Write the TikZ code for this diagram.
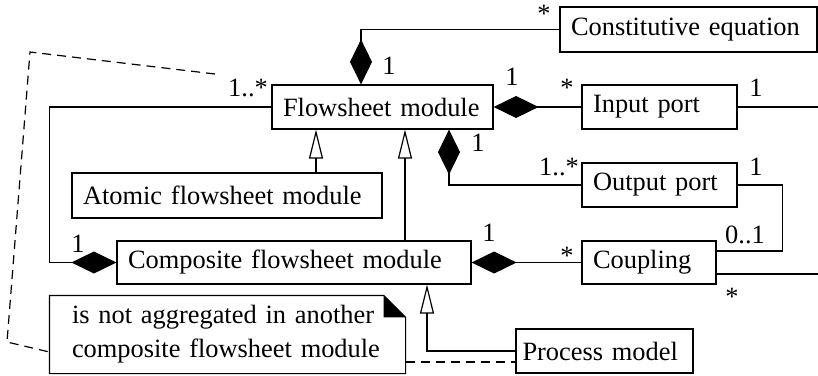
\documentclass[tikz,border=0pt]{standalone}
\usepackage{fontspec}
\setmainfont{Liberation Serif}
\usetikzlibrary{arrows.meta,calc}

\tikzset{
    cls/.style={draw,line width=0.6pt,inner xsep=5.5pt,inner ysep=0pt,minimum height=22pt,align=left},
    mult/.style={inner sep=0pt,anchor=base},
    aggr/.style={-{Diamond[length=22.5pt,width=11pt]}},
    gen/.style={-{Triangle[open,length=14.5pt,width=7pt]}},
    notelink/.style={dash pattern=on 4.5pt off 3pt}
}

\begin{document}
\begin{tikzpicture}[x=0.5pt,y=-0.5pt,line width=0.6pt,font=\fontsize{13.2}{17}\selectfont]
                \useasboundingbox(0,0)rectangle(818,375);
                \node[cls,text width=99.5pt](fm)at(382.5,107){Flowsheet module};
                \node[cls,text width=117.5pt,minimum height=22.5pt](ce)at(688.5,29.5){Constitutive equation};
                \node[cls,text width=66.5pt](ip)at(659.5,107){Input port};
                \node[cls,text width=66.5pt](op)at(659.5,185){Output port};
                \node[cls,text width=56pt,minimum height=21.5pt](cp)at(649,262.5){Coupling};
                \node[cls,text width=166pt,minimum height=21.5pt](cfm)at(294,262.5){Composite flowsheet module};
                \node[cls,text width=144pt,minimum height=22.5pt](afm)at(227,195.5){Atomic flowsheet module};
                \node[cls,text width=82pt,inner xsep=3.25pt](pm)at(604.5,351){Process model};
                \node[align=left,inner xsep=11pt,inner ysep=0pt,text width=155.5pt,minimum height=38.5pt](note)at(227.5,334.5)
                    {is not aggregated in another\\composite flowsheet module};
                \draw(note.north west)--([xshift=-11pt]note.north east)--([yshift=-11pt]note.north east)
                    --(note.south east)--(note.south west)--cycle;
                \fill([xshift=-11pt]note.north east)--([yshift=-11pt]note.north east)--([shift={(-11pt,-11pt)}]note.north east)--cycle;

                \coordinate(ipend)at(818,107);
                \coordinate(cpend)at(818,274);
                \coordinate(dstart)at(215,74);
                \coordinate(dtop)at(30,52);
                \coordinate(dbot)at(7,342);

                \draw[aggr](ce.west)-|([xshift=-10.75pt]fm.north);
                \draw[aggr](ip.west)--(fm.east);
                \draw(ip.east)--(ipend);
                \draw[aggr](op.west)-|([xshift=33.25pt]fm.south);
                \draw(op.east)--++(22.5pt,0)|-([yshift=5.75pt]cp.east);
                \draw([yshift=-5.75pt]cp.east)--(cpend);
                \draw[aggr](cp.west)--(cfm.east);
                \draw[aggr](fm.west)--++(-111pt,0)|-(cfm.west);
                \draw[gen]([xshift=44.5pt]afm.north)--([xshift=44.5pt]afm.north|-fm.south);
                \draw[gen]([xshift=55.5pt]cfm.north)--([xshift=55.5pt]cfm.north|-fm.south);
                \draw[gen](pm.west)-|([xshift=66.5pt]cfm.south);
                \draw[notelink](dstart)--(dtop)--(dbot)--([yshift=-8.75pt]note.west);
                \draw[notelink]([yshift=-13.75pt]note.east)--([yshift=-5.5pt]pm.west);

                \node[mult](m1)at(389,74){1};
                \node[mult](m2)at(544,22.5){*};
                \node[mult](m3)at(248,96){1..*};
                \node[mult](m4)at(512,85){1};
                \node[mult](m5)at(567,96.5){*};
                \node[mult](m6)at(756,96){1};
                \node[mult](m7)at(478,151){1};
                \node[mult](m8)at(559,175){1..*};
                \node[mult](m9)at(756,175){1};
                \node[mult](m10)at(745,243){0..1};
                \node[mult](m11)at(732,305.5){*};
                \node[mult](m12)at(489,241){1};
                \node[mult](m13)at(567,264){*};
                \node[mult](m14)at(78,252){1};
            \end{tikzpicture}
\end{document}
